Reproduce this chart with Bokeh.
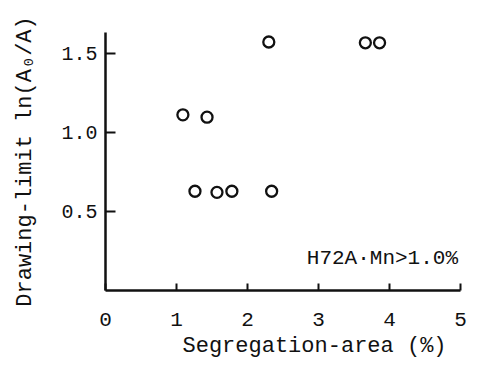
from bokeh.plotting import figure
from bokeh.models import Range1d, FixedTicker, Label, Title
from bokeh.embed import file_html
from bokeh.resources import INLINE

# Data
seg_area = [1.09, 1.43, 1.26, 1.57, 1.78, 2.30, 2.34, 3.66, 3.86]
draw_limit = [1.11, 1.095, 0.627, 0.62, 0.627, 1.57, 0.627, 1.565, 1.565]
x_ticks = [0, 1, 2, 3, 4, 5]
x_tick_labels = ["0", "1", "2", "3", "4", "5"]
y_ticks = [0.5, 1.0, 1.5]
y_tick_labels = ["0.5", "1.0", "1.5"]

FONT = "Liberation Mono"
INK = "#111111"

p = figure(width=478, height=364, output_backend="svg", toolbar_location=None,
           x_range=Range1d(0, 5), y_range=Range1d(0, 1.63),
           min_border_left=105, min_border_right=18, min_border_top=32, min_border_bottom=74)
p.outline_line_color = None
p.grid.visible = False
p.background_fill_color = "white"
p.border_fill_color = "white"

p.scatter(seg_area, draw_limit, marker="circle", size=11, fill_color=None,
          line_color=INK, line_width=2.3)

for ax in (p.xaxis[0], p.yaxis[0]):
    ax.axis_line_width = 2.5
    ax.axis_line_color = INK
    ax.major_tick_line_width = 2
    ax.major_tick_line_color = INK
    ax.major_tick_out = 0
    ax.minor_tick_line_color = None
    ax.major_label_text_font = FONT
    ax.major_label_text_color = INK
    ax.axis_label_text_font = FONT
    ax.axis_label_text_font_size = "22px"
    ax.axis_label_text_font_style = "normal"
    ax.axis_label_text_color = INK

p.xaxis.ticker = FixedTicker(ticks=x_ticks)
p.xaxis.major_label_overrides = {t: s for t, s in zip(x_ticks, x_tick_labels)}
p.xaxis.major_label_text_font_size = "21px"
p.xaxis.major_tick_in = 7
p.xaxis.major_label_standoff = 22

p.yaxis.ticker = FixedTicker(ticks=y_ticks)
p.yaxis.major_label_overrides = {t: s for t, s in zip(y_ticks, y_tick_labels)}
p.yaxis.major_label_text_font_size = "20px"
p.yaxis.major_tick_in = 10
p.yaxis.major_label_standoff = 8
p.yaxis.axis_label = "Drawing-limit ln(A\u2080/A)"
p.yaxis.axis_label_standoff = 20

p.add_layout(Title(text="Segregation-area (%)", align="left", offset=77,
                   text_font=FONT, text_font_size="22px", text_font_style="normal",
                   text_color=INK, standoff=6), "below")

p.add_layout(Label(x=3.9, y=0.2, text="H72A\u00b7Mn>1.0%",
                   text_font=FONT, text_font_size="21px", text_color=INK,
                   text_align="center", text_baseline="middle"))

open("out.html", "w").write(file_html(p, INLINE))
